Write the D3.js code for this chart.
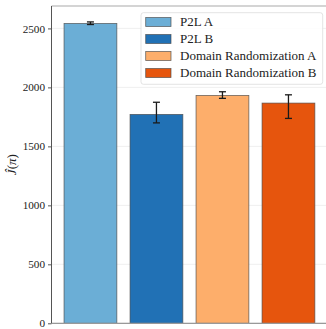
<!DOCTYPE html>
<html><head><meta charset="utf-8">
<script src="https://cdn.jsdelivr.net/npm/d3@7"></script>
<style>html,body{margin:0;padding:0;background:#fff;}</style>
</head><body>
<script>
const categories = ["P2L A", "P2L B", "Domain Randomization A", "Domain Randomization B"];
const values = [2542, 1771, 1932, 1867];
const errLow = [2533, 1699, 1907, 1737];
const errHigh = [2555, 1874, 1963, 1937];
const colors = ["#6baed6", "#2171b5", "#fdae6b", "#e6550d"];
const yTicks = [0, 500, 1000, 1500, 2000, 2500];

const W = 326, H = 329;
const L = 51.5, R = 327.4, T = 6, B = 323.3;
const font = "'Liberation Serif', serif";

const svg = d3.select("body").append("svg").attr("width", W).attr("height", H);

const x = d3.scaleBand().domain(categories).range([L, R]).paddingInner(0.2).paddingOuter(0.19);
const y = d3.scaleLinear().domain([0, 2690]).range([B, T]);

// grid
svg.append("g").selectAll("line").data(yTicks).join("line")
  .attr("x1", L).attr("x2", R).attr("y1", d => y(d)).attr("y2", d => y(d))
  .attr("stroke", "#ebebeb").attr("stroke-width", 0.8);

// bars
svg.append("g").selectAll("rect").data(categories).join("rect")
  .attr("x", d => x(d)).attr("width", x.bandwidth())
  .attr("y", (d, i) => y(values[i])).attr("height", (d, i) => y(0) - y(values[i]))
  .attr("fill", (d, i) => colors[i]).attr("stroke", "#4a4a4a").attr("stroke-opacity", 0.8).attr("stroke-width", 0.8);

// error bars
const eg = svg.append("g").attr("stroke", "#1a1a1a").attr("stroke-width", 1.3);
categories.forEach((c, i) => {
  const cx = x(c) + x.bandwidth() / 2;
  eg.append("line").attr("x1", cx).attr("x2", cx).attr("y1", y(errLow[i])).attr("y2", y(errHigh[i]));
  [errLow[i], errHigh[i]].forEach(v => {
    eg.append("line").attr("x1", cx - 3.5).attr("x2", cx + 3.5).attr("y1", y(v)).attr("y2", y(v));
  });
});

// spines
svg.append("line").attr("x1", L).attr("x2", R).attr("y1", T).attr("y2", T).attr("stroke", "#aaa").attr("stroke-width", 1.2);
svg.append("line").attr("x1", L).attr("x2", R).attr("y1", B).attr("y2", B).attr("stroke", "#999").attr("stroke-width", 1.2);
svg.append("line").attr("x1", L).attr("x2", L).attr("y1", T).attr("y2", B).attr("stroke", "#555").attr("stroke-width", 1);

// y axis
const ya = svg.append("g").attr("transform", `translate(${L},0)`)
  .call(d3.axisLeft(y).tickValues(yTicks).tickSize(3.5).tickPadding(3).tickFormat(d3.format("d")));
ya.select(".domain").remove();
ya.selectAll("line").attr("stroke", "#555");
ya.selectAll("text").attr("font-family", font).attr("font-size", 11.2).attr("fill", "#222");

// y label
const yl = svg.append("text").attr("transform", `translate(16,${(T + B) / 2}) rotate(-90)`)
  .attr("text-anchor", "middle").attr("font-family", font).attr("font-size", 13).attr("fill", "#222");
yl.append("tspan").attr("font-style", "italic").text("\u0134");
yl.append("tspan").text("(");
yl.append("tspan").attr("font-style", "italic").text("\u03c0");
yl.append("tspan").text(")");

// legend
const lg = svg.append("g");
lg.append("rect").attr("x", 141).attr("y", 12.7).attr("width", 181.7).attr("height", 71.6)
  .attr("rx", 2.5).attr("fill", "#fff").attr("fill-opacity", 0.85).attr("stroke", "#dcdcdc").attr("stroke-width", 0.8);
categories.forEach((c, i) => {
  const cy = 22 + i * 17;
  lg.append("rect").attr("x", 145.7).attr("y", cy - 4.5).attr("width", 25.3).attr("height", 9)
    .attr("fill", colors[i]).attr("stroke", "#4a4a4a").attr("stroke-opacity", 0.8).attr("stroke-width", 0.8);
  const t = lg.append("text").attr("x", 180).attr("y", cy).attr("dy", "0.35em")
    .attr("font-family", font).attr("font-size", 11.5).attr("fill", "#222").text(c);
  const len = t.node().getComputedTextLength();
  t.attr("textLength", len * 1.13).attr("lengthAdjust", "spacingAndGlyphs");
});
</script>
</body></html>
